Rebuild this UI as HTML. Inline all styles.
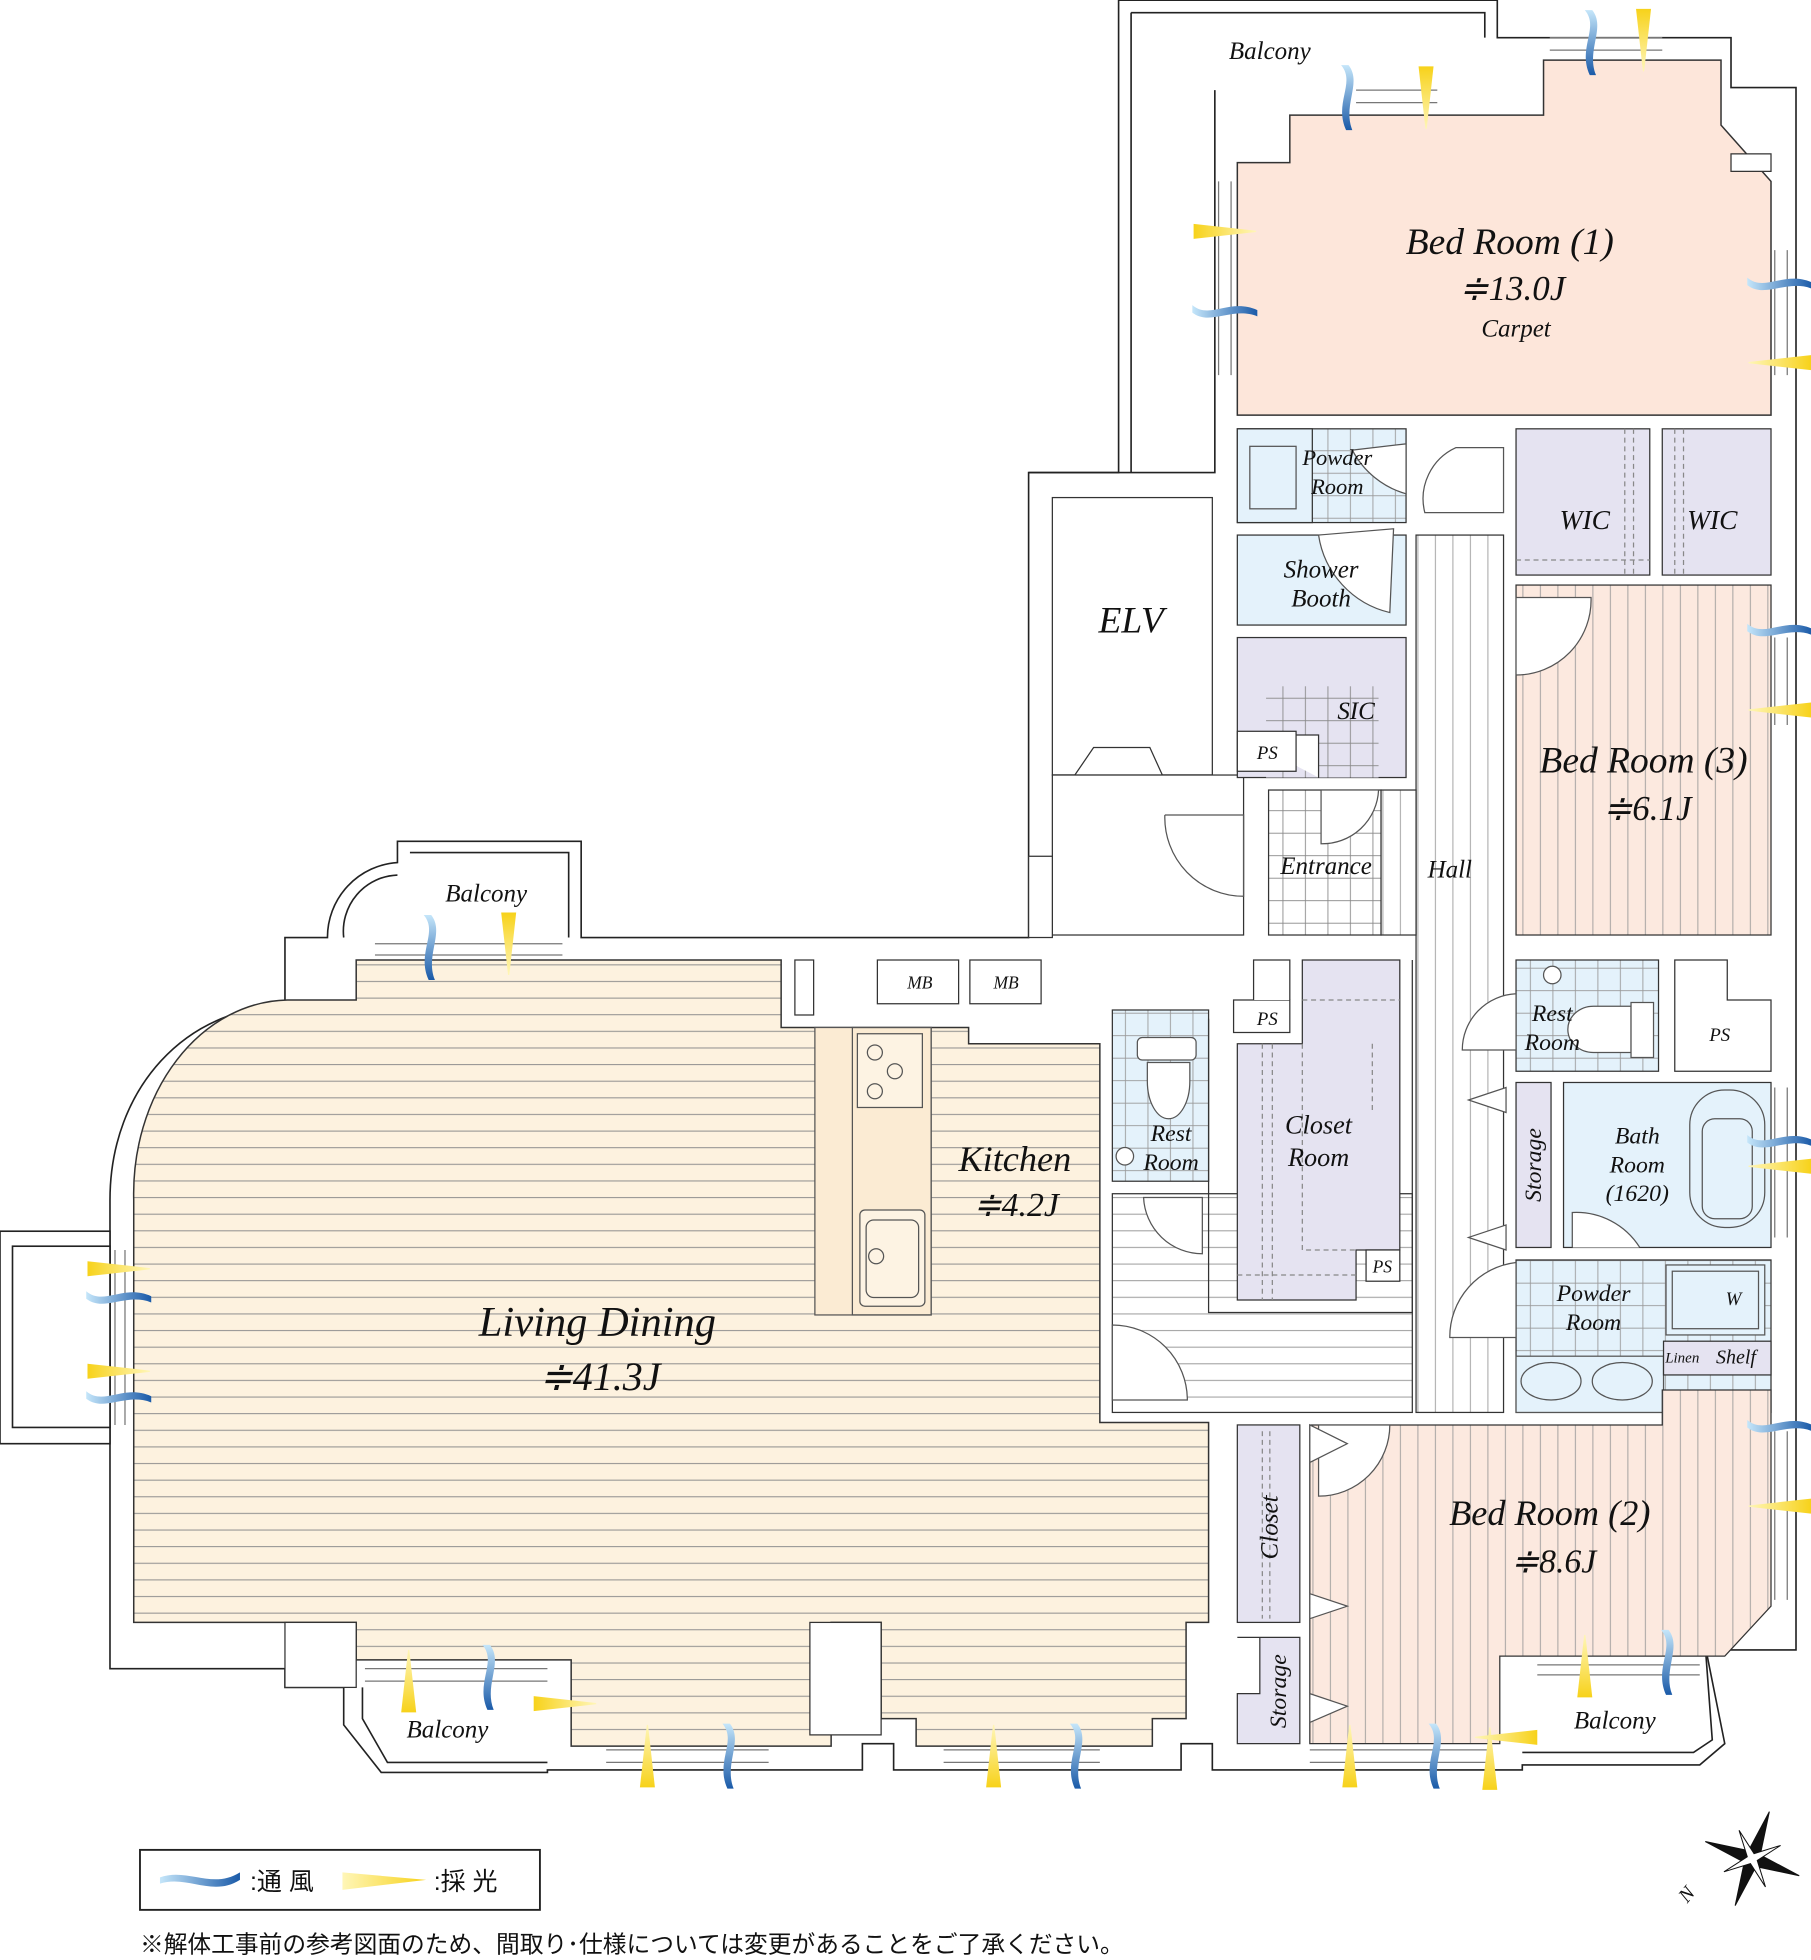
<!DOCTYPE html>
<html><head><meta charset="utf-8"><style>
html,body{margin:0;padding:0;background:#fff;}
svg{display:block;}
text{font-family:"Liberation Serif","Noto Serif CJK SC",serif;font-style:italic;fill:#111;}
.jp{font-family:"Liberation Sans","Noto Sans CJK JP",sans-serif;font-style:normal;}
</style></head><body>
<svg width="1811" height="1960" viewBox="0 0 1449 1568" xmlns="http://www.w3.org/2000/svg">
<defs>
<pattern id="hs" width="20" height="13.3" patternUnits="userSpaceOnUse"><rect width="20" height="13.3" fill="#fdf2df"/><line x1="0" y1="0.5" x2="20" y2="0.5" stroke="#8c8c8c" stroke-width="0.8"/></pattern>
<pattern id="hw" width="20" height="13.3" patternUnits="userSpaceOnUse"><rect width="20" height="13.3" fill="#fff"/><line x1="0" y1="0.5" x2="20" y2="0.5" stroke="#999" stroke-width="0.8"/></pattern>
<pattern id="vs" width="14" height="20" patternUnits="userSpaceOnUse"><rect width="14" height="20" fill="#fce9df"/><line x1="0.5" y1="0" x2="0.5" y2="20" stroke="#999" stroke-width="0.7"/></pattern>
<pattern id="vw" width="14" height="20" patternUnits="userSpaceOnUse"><rect width="14" height="20" fill="#fff"/><line x1="0.5" y1="0" x2="0.5" y2="20" stroke="#999" stroke-width="0.7"/></pattern>
<pattern id="tb" width="18" height="18" patternUnits="userSpaceOnUse"><rect width="18" height="18" fill="#e4f2fb"/><path d="M0 0.5H18M0.5 0V18" stroke="#999" stroke-width="0.7"/></pattern>
<pattern id="tw" width="18" height="18" patternUnits="userSpaceOnUse"><rect width="18" height="18" fill="#fff"/><path d="M0 0.5H18M0.5 0V18" stroke="#888" stroke-width="0.7"/></pattern>
<pattern id="tl" width="18" height="18" patternUnits="userSpaceOnUse"><rect width="18" height="18" fill="#e5e3f1"/><path d="M0 0.5H18M0.5 0V18" stroke="#888" stroke-width="0.7"/></pattern>
<linearGradient id="bw" x1="0" y1="0" x2="0" y2="1"><stop offset="0" stop-color="#c5e6fa"/><stop offset="1" stop-color="#1a5aa8"/></linearGradient>
<linearGradient id="bwh" x1="0" y1="0" x2="1" y2="0"><stop offset="0" stop-color="#c5e6fa"/><stop offset="1" stop-color="#1a5aa8"/></linearGradient>
<linearGradient id="yw" x1="0" y1="0" x2="0" y2="1"><stop offset="0" stop-color="#f7d21a"/><stop offset="1" stop-color="#fff6b8"/></linearGradient>
<linearGradient id="ywh" x1="0" y1="0" x2="1" y2="0"><stop offset="0" stop-color="#f7d21a"/><stop offset="1" stop-color="#fff6b8"/></linearGradient>
<path id="wv" d="M-4,-26 C8,-12 -10,4 0,26 L5,26 C-3,6 13,-12 2,-26 Z"/>
<path id="wh" d="M-26,-4 C-12,8 4,-10 26,0 L26,5 C6,-3 -12,13 -26,2 Z"/>
<path id="yv" d="M-6,-25 L6,-25 L0.5,25 L-0.5,25 Z"/>
<path id="yh" d="M-25,-6 L-25,6 L25,0.5 L25,-0.5 Z"/>
</defs>

<g fill="#fff" stroke="#222" stroke-width="1.3">
<path d="M895,0 H1198 V30 H1385 V70 H1437 V1320 H1365 L1380,1395 L1360,1412 H1218 V1416 H970 V1395 H945 V1416 H715 V1395 H690 V1416 H438 V1418 H305 L275,1380 V1350 H228 V1335 H88 V960 C88,870 150,805 228,805 V750 H262 A60,60 0 0 1 318,690 V673 H465 V750 H823 V378 H895 Z"/>
<rect x="0" y="985" width="88" height="170"/>
<rect x="10" y="997" width="78" height="145"/>
<path d="M905,10 H1188 V30" fill="none"/>
<path d="M905,10 V378" fill="none"/>
<path d="M972,72 V378 H823" fill="none"/>
<path d="M328,682 H455 V750" fill="none"/>
<path d="M275,750 A45,45 0 0 1 318,700" fill="none"/>
<path d="M290,1350 V1375 L310,1410 H438" fill="none"/>
<path d="M1365,1325 L1370,1392 L1355,1402 H1218" fill="none"/>
</g>

<path d="M285,768 H625 V822 H775 V835 H880 V1138 H967 V1298 H949 V1375 H922 V1397 H733 V1375 H705 V1298 H665 V1397 H457 V1328 H285 V1298 H107 V960 A125,155 0 0 1 230,800 H285 Z" fill="url(#hs)" stroke="#333" stroke-width="1.2"/>
<rect x="228" y="1298" width="57" height="52" fill="#fff" stroke="#333"/>
<rect x="648" y="1298" width="57" height="90" fill="#fff" stroke="#333"/>

<rect x="652" y="822" width="93" height="230" fill="#fbebd3" stroke="#555"/>
<rect x="682" y="822" width="63" height="230" fill="none" stroke="#555"/>
<rect x="686" y="827" width="52" height="59" fill="#fdf3e3" stroke="#555"/>
<circle cx="700" cy="842" r="6" fill="none" stroke="#555"/><circle cx="716" cy="857" r="6" fill="none" stroke="#555"/><circle cx="700" cy="873" r="6" fill="none" stroke="#555"/>
<rect x="688" y="968" width="52" height="77" rx="4" fill="#fdf3e3" stroke="#555"/>
<rect x="693" y="976" width="42" height="62" rx="6" fill="none" stroke="#555"/>
<circle cx="701" cy="1005" r="6" fill="none" stroke="#555"/>

<g fill="#fff" stroke="#333">
<rect x="636" y="768" width="15" height="44"/>
<rect x="702" y="768" width="65" height="35"/>
<rect x="776" y="768" width="57" height="35"/>
</g>

<path d="M990,130 H1032 V92 H1235 V48 H1377 V100 L1417,145 V332 H990 Z" fill="#fde6da" stroke="#333" stroke-width="1.2"/>
<rect x="1385" y="123" width="32" height="14" fill="#fff" stroke="#333"/>
<g stroke="#777" fill="none"><path d="M975,145 V300 M985,145 V300"/><path d="M1085,72 H1150 M1085,82 H1150"/><path d="M1240,30 H1330 M1240,40 H1330"/><path d="M1420,200 V300 M1430,200 V300"/></g>

<rect x="842" y="398" width="128" height="222" fill="#fff" stroke="#333"/>
<path d="M842,620 H860 L875,598 H920 L930,620 H970" fill="none" stroke="#333"/>
<rect x="842" y="620" width="153" height="128" fill="#fff" stroke="#333"/>
<path d="M932,652 H995 V717 A63,63 0 0 1 932,652" fill="none" stroke="#555"/>
<rect x="823" y="685" width="19" height="65" fill="#fff" stroke="#333"/>

<rect x="990" y="343" width="135" height="75" fill="url(#tb)" stroke="#333"/>
<rect x="990" y="343" width="60" height="75" fill="#e4f2fb" stroke="#333"/>
<rect x="1000" y="357" width="37" height="50" fill="#e4f2fb" stroke="#555"/>
<rect x="990" y="428" width="135" height="72" fill="#e4f2fb" stroke="#333"/>
<path d="M1055,428 L1115,423 L1112,490 A75,75 0 0 1 1055,428" fill="#fff" stroke="#555"/>
<path d="M1082,360 L1125,355 V395 A70,70 0 0 1 1082,360" fill="#fff" stroke="#555"/>
<rect x="990" y="510" width="135" height="112" fill="#e5e3f1" stroke="#333"/>
<rect x="1013" y="549" width="90" height="73" fill="url(#tl)"/>
<path d="M990,588 H1055 V622" fill="#fff" stroke="#333"/>
<rect x="990" y="585" width="47" height="32" fill="#fff" stroke="#333"/>

<rect x="1015" y="632" width="90" height="116" fill="url(#tw)" stroke="#333"/>
<path d="M1057,632 H1103 A45,45 0 0 1 1057,675 Z" fill="#fff" stroke="#555"/>

<rect x="1133" y="428" width="70" height="702" fill="url(#vw)" stroke="#333"/>
<rect x="1105" y="632" width="28" height="116" fill="url(#vw)" stroke="#333"/>
<path d="M1165,358 A45,45 0 0 0 1140,410 H1203 V358 Z" fill="#fff" stroke="#555"/>

<rect x="1213" y="343" width="107" height="117" fill="#e5e3f1" stroke="#333"/>
<rect x="1330" y="343" width="87" height="117" fill="#e5e3f1" stroke="#333"/>
<path d="M1300,343 V460 M1307,343 V460 M1340,343 V460 M1347,343 V460 M1213,448 H1320" stroke="#888" stroke-dasharray="4,3" fill="none"/>

<rect x="1213" y="468" width="204" height="280" fill="url(#vs)" stroke="#333"/>
<path d="M1213,478 H1273 A60,60 0 0 1 1213,540 Z" fill="#fff" stroke="#555"/>
<g stroke="#777" fill="none"><path d="M1420,510 V580 M1430,510 V580"/></g>

<rect x="1213" y="768" width="114" height="89" fill="url(#tb)" stroke="#333"/>
<circle cx="1242" cy="780" r="7" fill="#fff" stroke="#555"/>
<path d="M1305,805 H1275 A20,18 0 0 0 1275,842 H1305 Z" fill="#fff" stroke="#555"/>
<rect x="1305" y="802" width="18" height="44" fill="#fff" stroke="#555"/>
<path d="M1340,768 H1382 V800 H1417 V857 H1340 Z" fill="#fff" stroke="#333"/>
<path d="M1213,795 A45,45 0 0 0 1170,840 H1213 Z" fill="#fff" stroke="#555"/>

<rect x="1213" y="866" width="28" height="132" fill="#e5e3f1" stroke="#333"/>
<rect x="1251" y="866" width="166" height="132" fill="#e4f2fb" stroke="#333"/>
<rect x="1352" y="872" width="60" height="110" rx="28" fill="#e4f2fb" stroke="#555"/>
<rect x="1362" y="895" width="40" height="80" rx="10" fill="none" stroke="#555"/>
<path d="M1258,998 V970 A60,60 0 0 1 1312,998" fill="#fff" stroke="#555"/>
<path d="M1175,880 L1205,870 V890 Z M1175,990 L1205,980 V1000 Z" fill="#fff" stroke="#555"/>

<rect x="1213" y="1008" width="204" height="122" fill="url(#tb)" stroke="#333"/>
<rect x="1213" y="1085" width="118" height="45" fill="#e4f2fb" stroke="#555"/>
<ellipse cx="1241" cy="1105" rx="24" ry="15" fill="#e4f2fb" stroke="#555"/>
<ellipse cx="1298" cy="1105" rx="24" ry="15" fill="#e4f2fb" stroke="#555"/>
<rect x="1331" y="1073" width="86" height="27" fill="#e5e3f1" stroke="#333"/>
<rect x="1333" y="1012" width="79" height="56" fill="#e4f2fb" stroke="#555"/>
<rect x="1338" y="1017" width="69" height="46" fill="none" stroke="#555"/>
<path d="M1213,1010 A60,60 0 0 0 1160,1070 H1213 Z" fill="#fff" stroke="#555"/>

<rect x="890" y="808" width="77" height="137" fill="url(#tb)" stroke="#333"/>
<rect x="910" y="830" width="47" height="18" rx="4" fill="#fff" stroke="#555"/>
<path d="M918,850 H952 V865 A17,30 0 0 1 918,865 Z" fill="#fff" stroke="#555"/>
<circle cx="900" cy="925" r="7" fill="#fff" stroke="#555"/>
<rect x="890" y="955" width="240" height="175" fill="url(#hw)" stroke="#333"/>
<path d="M967,815 V1050 H1130 V768" fill="none" stroke="#333"/>
<path d="M915,958 H962 V1003 A47,47 0 0 1 915,958 Z" fill="#fff" stroke="#555"/>
<path d="M890,1060 A60,60 0 0 1 950,1120 H890 Z" fill="#fff" stroke="#555"/>
<path d="M990,835 H1042 V768 H1120 V1000 H1085 V1040 H990 Z" fill="#e5e3f1" stroke="#333"/>
<path d="M1042,800 H1120 M1010,835 V1040 M1018,835 V1040 M990,1020 H1085 M1042,835 V1000 H1085 M1098,835 V890" stroke="#888" fill="none" stroke-dasharray="4,3"/>
<rect x="987" y="800" width="45" height="26" fill="#fff" stroke="#333"/>
<path d="M1003,800 V768 H1032 V800" fill="#fff" stroke="#333"/>
<rect x="1093" y="1000" width="27" height="25" fill="#fff" stroke="#333"/>

<path d="M1048,1140 H1330 V1112 H1417 V1285 L1380,1325 H1200 V1395 H1048 Z" fill="url(#vs)" stroke="#333"/>
<path d="M1055,1140 H1112 A57,57 0 0 1 1055,1197 Z" fill="#fff" stroke="#555"/>
<path d="M1048,1140 L1078,1155 L1048,1170 Z M1048,1275 L1078,1285 L1048,1295 Z M1048,1355 L1078,1365 L1048,1378 Z" fill="#fff" stroke="#555"/>
<rect x="990" y="1140" width="50" height="158" fill="#e5e3f1" stroke="#333"/>
<path d="M990,1310 H1040 V1395 H990 V1355 H1008 V1310 Z" fill="#e5e3f1" stroke="#333"/>
<path d="M1010,1145 V1295 M1016,1145 V1295" stroke="#888" stroke-dasharray="4,3"/>

<g stroke="#777" fill="none">
<path d="M300,755 H450 M300,764 H450"/>
<path d="M292,1335 H438 M292,1345 H438"/>
<path d="M485,1400 H615 M485,1410 H615 M755,1400 H880 M755,1410 H880 M1048,1400 H1190 M1048,1410 H1190"/>
<path d="M1230,1332 H1360 M1230,1340 H1360"/>
<path d="M92,1000 V1140 M100,1000 V1140"/>
<path d="M1420,870 V990 M1430,870 V990 M1420,1145 V1280 M1430,1145 V1280"/>
</g>

<g fill="url(#bw)">
<use href="#wv" x="1077" y="78"/><use href="#wv" x="1272" y="34"/><use href="#wv" x="343" y="758"/><use href="#wv" x="390" y="1342"/><use href="#wv" x="582" y="1405"/><use href="#wv" x="860" y="1405"/><use href="#wv" x="1147" y="1405"/><use href="#wv" x="1333" y="1330"/>
</g>
<g fill="url(#bwh)">
<use href="#wh" x="980" y="248"/><use href="#wh" x="1424" y="226"/><use href="#wh" x="1424" y="503"/><use href="#wh" x="1424" y="912"/><use href="#wh" x="1424" y="1140"/><use href="#wh" x="95" y="1037"/><use href="#wh" x="95" y="1117"/>
</g>
<g fill="url(#yw)">
<use href="#yv" x="1141" y="78"/><use href="#yv" x="1315" y="32"/><use href="#yv" x="407" y="755"/>
</g>
<g fill="url(#yw)">
<use href="#yv" transform="translate(327,1345) rotate(180)"/><use href="#yv" transform="translate(518,1405) rotate(180)"/><use href="#yv" transform="translate(795,1405) rotate(180)"/><use href="#yv" transform="translate(1080,1405) rotate(180)"/><use href="#yv" transform="translate(1268,1333) rotate(180)"/><use href="#yv" transform="translate(1192,1407) rotate(180)"/>
</g>
<g fill="url(#ywh)">
<use href="#yh" x="980" y="185"/><use href="#yh" x="95" y="1015"/><use href="#yh" x="95" y="1097"/><use href="#yh" x="452" y="1363"/>
<use href="#yh" transform="translate(1424,290) rotate(180)"/><use href="#yh" transform="translate(1424,568) rotate(180)"/><use href="#yh" transform="translate(1424,933) rotate(180)"/><use href="#yh" transform="translate(1424,1205) rotate(180)"/><use href="#yh" transform="translate(1205,1390) rotate(180)"/>
</g>

<g text-anchor="middle">
<text x="1016" y="47" font-size="20">Balcony</text>
<text x="1208" y="203" font-size="30">Bed Room (1)</text>
<text x="1210" y="240" font-size="28">≑13.0J</text>
<text x="1213" y="269" font-size="20">Carpet</text>
<text x="1070" y="372" font-size="18">Powder</text><text x="1070" y="395" font-size="18">Room</text>
<text x="1057" y="462" font-size="20">Shower</text><text x="1057" y="485" font-size="20">Booth</text>
<text x="1085" y="575" font-size="20">SIC</text>
<text x="1014" y="607" font-size="15">PS</text>
<text x="905" y="506" font-size="30">ELV</text>
<text x="1061" y="699" font-size="20">Entrance</text>
<text x="1160" y="702" font-size="20">Hall</text>
<text x="1268" y="423" font-size="22">WIC</text>
<text x="1370" y="423" font-size="22">WIC</text>
<text x="1315" y="618" font-size="30">Bed Room (3)</text>
<text x="1318" y="656" font-size="28">≑6.1J</text>
<text x="389" y="721" font-size="20">Balcony</text>
<text x="736" y="791" font-size="14">MB</text>
<text x="805" y="791" font-size="14">MB</text>
<text x="1014" y="820" font-size="15">PS</text>
<text x="1242" y="817" font-size="19">Rest</text><text x="1242" y="840" font-size="19">Room</text>
<text x="1376" y="833" font-size="15">PS</text>
<text x="812" y="937" font-size="29">Kitchen</text>
<text x="813" y="973" font-size="27">≑4.2J</text>
<text x="937" y="913" font-size="19">Rest</text><text x="937" y="936" font-size="19">Room</text>
<text x="1055" y="907" font-size="21">Closet</text><text x="1055" y="933" font-size="21">Room</text>
<text x="1106" y="1018" font-size="14">PS</text>
<text x="1310" y="915" font-size="19">Bath</text><text x="1310" y="938" font-size="19">Room</text><text x="1310" y="961" font-size="19">(1620)</text>
<text x="1275" y="1041" font-size="19">Powder</text><text x="1275" y="1064" font-size="19">Room</text>
<text x="1387" y="1044" font-size="15">W</text>
<text x="1346" y="1090" font-size="12">Linen</text>
<text x="1389" y="1091" font-size="16">Shelf</text>
<text x="478" y="1069" font-size="34">Living Dining</text>
<text x="480" y="1112" font-size="32">≑41.3J</text>
<text x="1240" y="1220" font-size="29">Bed Room (2)</text>
<text x="1243" y="1258" font-size="27">≑8.6J</text>
<text x="358" y="1390" font-size="20">Balcony</text>
<text x="1292" y="1383" font-size="20">Balcony</text>
<text transform="translate(1233,932) rotate(-90)" font-size="19">Storage</text>
<text transform="translate(1022,1222) rotate(-90)" font-size="20">Closet</text>
<text transform="translate(1029,1353) rotate(-90)" font-size="19">Storage</text>
</g>

<rect x="112" y="1480" width="320" height="48" fill="#fff" stroke="#222" stroke-width="1.5"/>
<path d="M128,1502 C150,1494 170,1512 192,1498 L192,1504 C170,1518 150,1500 128,1507 Z" fill="url(#bwh)"/>
<text class="jp" x="200" y="1512" font-size="20">:通 風</text>
<path d="M275,1506 L342,1498 L342,1512 Z" fill="url(#ywh)" transform="rotate(180 308 1505)"/>
<text class="jp" x="347" y="1512" font-size="20">:採 光</text>
<text class="jp" x="112" y="1562" font-size="19">※解体工事前の参考図面のため、間取り･仕様については変更があることをご了承ください。</text>

<g transform="translate(1402,1487)" stroke="#111" stroke-width="0.8">
<path d="M0,-40 L5,-5 L40,0 L5,5 L0,40 L-5,5 L-40,0 L-5,-5 Z" fill="#111" transform="rotate(20)"/>
<path d="M0,-25 L3,-3 L25,0 L3,3 L0,25 L-3,3 L-25,0 L-3,-3 Z" fill="#fff" transform="rotate(65)"/>
<text x="-52" y="36" font-size="16" transform="rotate(-50 -52 36)" stroke="none">N</text>
</g>
</svg>
</body></html>
